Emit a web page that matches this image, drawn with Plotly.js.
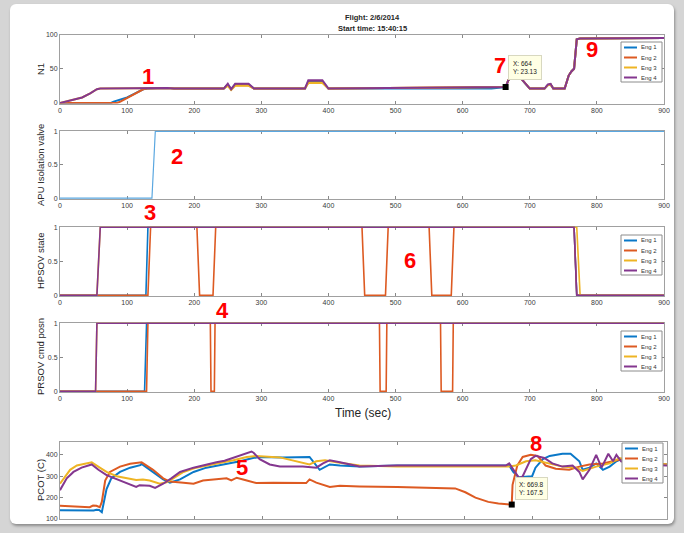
<!DOCTYPE html>
<html>
<head>
<meta charset="utf-8">
<script src="https://cdn.plot.ly/plotly-3.0.1.min.js"></script>
<style>
  html, body { margin:0; padding:0; background:#d5d5d5; width:684px; height:533px; overflow:hidden; }
  #frame { position:absolute; left:10px; top:4px; width:664px; height:520px; background:#ffffff; border-radius:6px; box-shadow:1px 2px 3px rgba(0,0,0,0.35); }
  #chart { position:absolute; left:0; top:0; width:684px; height:533px; }
</style>
</head>
<body>
<div id="frame"></div>
<div id="chart"></div>
<script>
// ---------------- DATA ----------------
const engNames = ['Eng 1', 'Eng 2', 'Eng 3', 'Eng 4'];

// N1 (panel 1)
const n1_t1 = [0, 76, 80, 90, 100, 112, 124, 130, 160, 170, 200, 244, 250, 255, 261, 281, 289, 365, 370, 391, 400, 600, 606, 637, 643, 664, 668, 675, 685, 690, 694, 700, 722, 727, 731, 735, 752, 755, 758, 762, 766, 770, 775, 900];
const n1_v1 = [0, 0, 2, 5, 8, 14, 20, 21, 22, 21, 21, 21, 27, 20, 27, 27, 21, 21, 31, 31, 21, 21, 20, 20, 21, 23.13, 33, 40, 38, 32, 28, 21, 21, 26, 27, 21, 21, 30, 40, 46, 50, 93, 94, 95];
const n1_t2 = [0, 85, 90, 100, 112, 124, 130, 160, 170, 200, 244, 250, 255, 261, 281, 289, 365, 370, 391, 400, 664, 668, 675, 685, 690, 694, 700, 722, 727, 731, 735, 752, 755, 758, 762, 766, 770, 775, 900];
const n1_v2 = [0, 0, 2, 7, 13, 20, 21, 22, 21, 21, 21, 26, 20, 26, 26, 21, 21, 30, 30, 21, 23.13, 33, 40, 38, 32, 28, 21, 21, 26, 27, 21, 21, 30, 40, 46, 50, 93, 94, 95];
const n1_t3 = [0, 8, 20, 33, 45, 55, 60, 160, 170, 244, 250, 255, 261, 281, 289, 365, 370, 391, 400, 664, 668, 675, 685, 690, 694, 700, 722, 727, 731, 735, 752, 755, 758, 762, 766, 770, 775, 900];
const n1_v3 = [0, 2, 4, 8, 14, 20, 21, 22, 21, 21, 25, 19, 25, 25, 21, 21, 29, 29, 21, 23.13, 33, 40, 38, 32, 28, 21, 21, 26, 27, 21, 21, 30, 40, 46, 50, 93, 94, 95];
const n1_t4 = [0, 8, 20, 33, 45, 55, 60, 160, 170, 244, 250, 255, 261, 281, 289, 365, 370, 391, 400, 664, 668, 675, 685, 690, 694, 700, 722, 727, 731, 735, 752, 755, 758, 762, 766, 770, 775, 900];
const n1_v4 = [0, 2, 4, 8, 14, 20, 21, 22, 21, 21, 28, 20, 28, 28, 21, 21, 33, 33, 21, 23.13, 33, 40, 38, 32, 28, 21, 21, 27, 28, 21, 21, 30, 40, 46, 50, 93, 94, 95];

// APU isolation valve (panel 2)
const apu_t = [0, 137, 142, 900];
const apu_v = [0, 0, 1, 1];

// HPSOV state (panel 3)
const hp_t1 = [0, 128, 131, 766, 770, 900];
const hp_v1 = [0, 0, 1, 1, 0, 0];
const hp_t2 = [0, 131, 135, 204, 208, 228, 232, 450, 454, 485, 489, 550, 554, 583, 587, 766, 770, 900];
const hp_v2 = [0, 0, 1, 1, 0, 0, 1, 1, 0, 0, 1, 1, 0, 0, 1, 1, 0, 0];
const hp_t3 = [0, 55, 60, 770, 775, 900];
const hp_v3 = [0, 0, 1, 1, 0, 0];
const hp_t4 = [0, 55, 60, 766, 770, 900];
const hp_v4 = [0, 0, 1, 1, 0, 0];

// PRSOV cmd posn (panel 4)
const pr_t1 = [0, 126, 129, 900];
const pr_v1 = [0, 0, 1, 1];
const pr_t2 = [0, 129, 131, 224, 225, 230, 231, 476, 477, 486, 487, 567, 568, 585, 586, 900];
const pr_v2 = [0, 0, 1, 1, 0, 0, 1, 1, 0, 0, 1, 1, 0, 0, 1, 1];
const pr_t3 = [0, 53, 55, 900];
const pr_v3 = [0, 0, 1, 1];
const pr_t4 = [0, 53, 55, 900];
const pr_v4 = [0, 0, 1, 1];

// PCOT (C) (panel 5)
const pc_t1 = [0, 30, 50, 54, 58, 62, 65, 69, 76, 89, 104, 119, 121, 138, 153, 163, 178, 198, 217, 242, 267, 286, 296, 330, 365, 370, 385, 400, 415, 444, 500, 600, 660, 666, 672, 680, 700, 705, 716, 726, 745, 757, 770, 775, 785, 795, 805, 815, 825, 835, 850, 870, 900];
const pc_v1 = [141, 140, 140, 143, 142, 132, 180, 240, 290, 320, 340, 352, 358, 320, 285, 270, 285, 320, 340, 355, 370, 385, 390, 388, 388, 390, 330, 355, 350, 345, 350, 350, 350, 350, 320, 295, 300, 340, 380, 395, 405, 405, 370, 330, 340, 360, 330, 345, 370, 385, 370, 360, 355];
const pc_t2 = [0, 44, 49, 54, 59, 62, 67, 74, 89, 104, 121, 138, 153, 163, 183, 198, 212, 237, 247, 254, 262, 277, 291, 316, 365, 370, 380, 400, 415, 444, 500, 586, 601, 616, 635, 650, 669.8, 671, 678, 686, 698, 708, 720, 735, 755, 770, 785, 805, 825, 834, 850, 900];
const pc_v2 = [162, 155, 163, 162, 155, 180, 280, 320, 345, 358, 365, 330, 290, 275, 270, 265, 280, 285, 290, 280, 293, 280, 268, 270, 268, 285, 270, 250, 255, 252, 250, 243, 225, 200, 180, 172, 167.5, 260, 350, 390, 400, 395, 350, 335, 330, 345, 355, 360, 375, 380, 370, 355];
const pc_t3 = [0, 15, 25, 40, 47, 59, 69, 84, 104, 113, 123, 133, 148, 158, 168, 183, 202, 227, 257, 277, 291, 326, 350, 370, 380, 393, 410, 444, 500, 600, 666, 676, 691, 705, 726, 745, 765, 775, 795, 815, 830, 850, 900];
const pc_v3 = [265, 330, 350, 362, 365, 340, 320, 300, 290, 282, 285, 280, 265, 272, 290, 320, 340, 355, 375, 390, 395, 388, 370, 355, 370, 375, 365, 350, 345, 345, 345, 350, 370, 375, 360, 345, 340, 325, 345, 360, 385, 365, 355];
const pc_t4 = [0, 10, 20, 32, 47, 57, 69, 89, 104, 113, 118, 133, 141, 153, 165, 178, 198, 217, 232, 244, 262, 274, 284, 287, 296, 311, 326, 360, 380, 390, 400, 415, 444, 500, 600, 661, 666, 675, 681, 686, 698, 705, 718, 730, 745, 760, 770, 775, 785, 795, 803, 813, 820, 825, 832, 850, 900];
const pc_v4 = [235, 290, 320, 340, 355, 330, 305, 280, 260, 250, 258, 255, 245, 265, 290, 320, 340, 355, 365, 372, 390, 405, 415, 410, 380, 355, 345, 345, 340, 360, 375, 365, 345, 350, 350, 350, 360, 320, 290, 300, 380, 395, 385, 360, 345, 350, 320, 285, 330, 400, 340, 405, 370, 400, 370, 355, 350];

// data tips
const tip1X = [664];   const tip1Y = [23.13];
const tip5X = [669.8]; const tip5Y = [167.5];

// tick values
const xTicks = [0, 100, 200, 300, 400, 500, 600, 700, 800, 900];
const n1Ticks = [0, 50, 100];
const binTicks = [0, 0.5, 1];
const pcTicks = [100, 200, 300, 400];

// ---------------- STYLE ----------------
const W = 684, H = 533;
const colors = ['#0a78c8', '#dd5a22', '#eeb424', '#84378f'];
const FONT = 'Liberation Sans, Arial, sans-serif';
const px = v => v / W;
const py = v => 1 - v / H;

function lineTrace(t, v, i, xa, ya, w, col) {
  return { x: t, y: v, type: 'scatter', mode: 'lines', xaxis: xa, yaxis: ya,
           line: { color: col || colors[i], width: w }, showlegend: false, hoverinfo: 'skip' };
}

const traces = [];
const n1T = [n1_t1, n1_t2, n1_t3, n1_t4], n1V = [n1_v1, n1_v2, n1_v3, n1_v4];
const hpT = [hp_t1, hp_t2, hp_t3, hp_t4], hpV = [hp_v1, hp_v2, hp_v3, hp_v4];
const prT = [pr_t1, pr_t2, pr_t3, pr_t4], prV = [pr_v1, pr_v2, pr_v3, pr_v4];
const pcT = [pc_t1, pc_t2, pc_t3, pc_t4], pcV = [pc_v1, pc_v2, pc_v3, pc_v4];
for (let i = 0; i < 4; i++) traces.push(lineTrace(n1T[i], n1V[i], i, 'x', 'y', 2));
traces.push(lineTrace(apu_t, apu_v, 0, 'x2', 'y2', 1.2, '#5aa7e0'));
for (let i = 0; i < 4; i++) traces.push(lineTrace(hpT[i], hpV[i], i, 'x3', 'y3', 1.6));
for (let i = 0; i < 4; i++) traces.push(lineTrace(prT[i], prV[i], i, 'x4', 'y4', 1.6));
for (let i = 0; i < 4; i++) traces.push(lineTrace(pcT[i], pcV[i], i, 'x5', 'y5', 2));
traces.push({ x: tip1X, y: tip1Y, type: 'scatter', mode: 'markers', xaxis: 'x', yaxis: 'y',
  marker: { symbol: 'square', size: 6, color: '#000' }, showlegend: false, hoverinfo: 'skip' });
traces.push({ x: tip5X, y: tip5Y, type: 'scatter', mode: 'markers', xaxis: 'x5', yaxis: 'y5',
  marker: { symbol: 'square', size: 6, color: '#000' }, showlegend: false, hoverinfo: 'skip' });

function xAxis(dom, anchor, labels) {
  return { domain: dom, anchor: anchor, range: [0, 900], tickvals: xTicks, showticklabels: labels,
    ticks: 'inside', ticklen: 3, tickcolor: '#888', showline: true, linecolor: '#a0a0a0', linewidth: 1,
    mirror: 'ticks', showgrid: false, zeroline: false, layer: 'below traces',
    tickfont: { size: 7, color: '#3a3a3a', family: FONT }, fixedrange: true };
}
function yAxis(dom, anchor, range, vals, txt) {
  return { domain: dom, anchor: anchor, range: range, tickvals: vals, ticktext: txt,
    ticks: 'inside', ticklen: 3, tickcolor: '#888', showline: true, linecolor: '#a0a0a0', linewidth: 1,
    mirror: 'ticks', showgrid: false, zeroline: false, layer: 'below traces',
    tickfont: { size: 7, color: '#3a3a3a', family: FONT }, fixedrange: true };
}

const xd = [px(60), px(664)];
const binRange = [-0.012, 1.012];
const layout = {
  width: W, height: H, autosize: false,
  margin: { l: 0, r: 0, t: 0, b: 0 },
  paper_bgcolor: 'rgba(0,0,0,0)', plot_bgcolor: '#ffffff',
  showlegend: false,
  xaxis:  xAxis(xd, 'y', true),
  yaxis:  yAxis([py(103.5), py(34.5)], 'x', [-0.8, 100], n1Ticks, ['0', '50', '100']),
  xaxis2: xAxis(xd, 'y2', true),
  yaxis2: yAxis([py(199), py(130.5)], 'x2', binRange, binTicks, ['0', '0.5', '1']),
  xaxis3: xAxis(xd, 'y3', true),
  yaxis3: yAxis([py(296), py(226.5)], 'x3', binRange, binTicks, ['0', '0.5', '1']),
  xaxis4: xAxis(xd, 'y4', true),
  yaxis4: yAxis([py(392), py(322.5)], 'x4', binRange, binTicks, ['0', '0.5', '1']),
  xaxis5: xAxis([px(60), px(667)], 'y5', false),
  yaxis5: yAxis([py(519), py(442)], 'x5', [100, 460], pcTicks, ['100', '200', '300', '400']),
  shapes: [], annotations: []
};

function ann(x, y, text, size, opts) {
  return Object.assign({ xref: 'paper', yref: 'paper', x: px(x), y: py(y), text: text, showarrow: false,
    font: { size: size, color: '#262626', family: FONT }, xanchor: 'center', yanchor: 'middle' }, opts || {});
}

// titles
layout.annotations.push(ann(373, 17, '<b>Flight: 2/6/2014</b>', 7.5));
layout.annotations.push(ann(373, 28, '<b>Start time: 15:40:15</b>', 7.5));
// y labels
const ylabs = [['N1', 69], ['APU Isolation valve', 165], ['HPSOV state', 261], ['PRSOV cmd posn', 357], ['PCOT (C)', 480]];
ylabs.forEach(l => layout.annotations.push(ann(40, l[1], l[0], 9.5, { textangle: -90 })));
layout.annotations.push(ann(363, 413, 'Time (sec)', 12));

// manual legends
function legend(x0, y0) {
  const x1 = x0 + 41, y1 = y0 + 40;
  layout.shapes.push({ type: 'rect', xref: 'paper', yref: 'paper', x0: px(x0), x1: px(x1), y0: py(y0), y1: py(y1),
    fillcolor: '#ffffff', line: { color: '#8c8c8c', width: 1 } });
  for (let i = 0; i < 4; i++) {
    const yy = y0 + 5.5 + 10 * i;
    layout.shapes.push({ type: 'line', xref: 'paper', yref: 'paper', x0: px(x0 + 3), x1: px(x0 + 16), y0: py(yy), y1: py(yy),
      line: { color: colors[i], width: 2 } });
    layout.annotations.push(ann(x0 + 18, yy, engNames[i], 6, { xanchor: 'left', font: { size: 6, color: '#333', family: FONT } }));
  }
}
legend(621, 42);
legend(621, 235);
legend(621, 331);
legend(622, 443);

// data tips
layout.annotations.push({ xref: 'x', yref: 'y', x: tip1X[0], y: tip1Y[0], text: 'X: 664<br>Y: 23.13', showarrow: false,
  xanchor: 'left', yanchor: 'bottom', xshift: 2, yshift: 7, align: 'left', bgcolor: '#ffffe4', bordercolor: '#d8d8c0',
  borderwidth: 1, borderpad: 4, font: { size: 6.5, color: '#222', family: FONT } });
layout.annotations.push({ xref: 'x5', yref: 'y5', x: tip5X[0], y: tip5Y[0], text: 'X: 669.8<br>Y: 167.5', showarrow: false,
  xanchor: 'left', yanchor: 'bottom', xshift: 3, yshift: 5, align: 'left', bgcolor: '#ffffe4', bordercolor: '#d8d8c0',
  borderwidth: 1, borderpad: 3, font: { size: 6.5, color: '#222', family: FONT } });

// red callout numbers
const RED = { family: 'Liberation Sans Narrow, Arial Narrow, Liberation Sans, sans-serif', size: 22, color: '#ff0000' };
const callouts = [['1', 148, 77], ['2', 177, 156], ['3', 150, 213], ['4', 222, 310], ['5', 242, 467],
                  ['6', 410, 260], ['7', 500, 66], ['8', 536, 443], ['9', 592, 50]];
callouts.forEach(c => layout.annotations.push(ann(c[1], c[2], '<b>' + c[0] + '</b>', 22, { font: RED })));

Plotly.newPlot('chart', traces, layout, { staticPlot: true, displayModeBar: false });
</script>
</body>
</html>
